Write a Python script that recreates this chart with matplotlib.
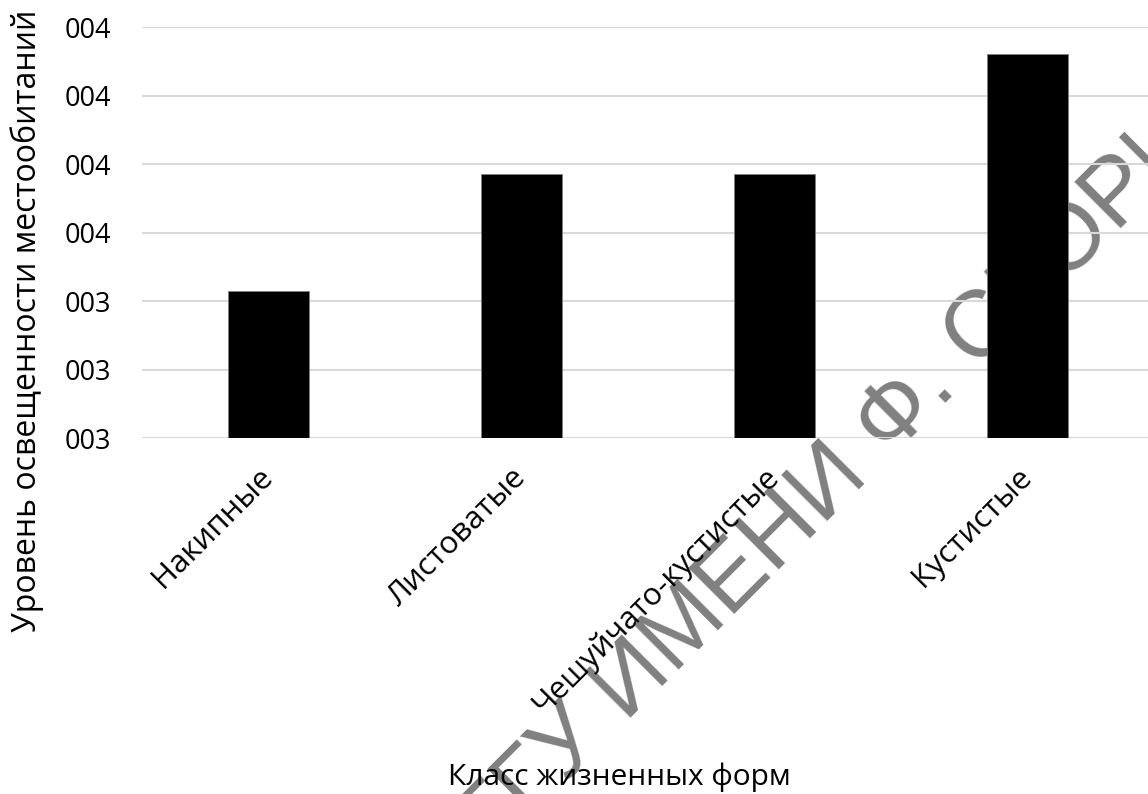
import numpy as np
import matplotlib.pyplot as plt
from matplotlib.textpath import TextPath
from matplotlib.font_manager import FontProperties

# Данные: класс жизненных форм и уровень освещенности
categories = ['Накипные', 'Листоватые', 'Чешуйчато-кустистые', 'Кустистые']
values = [3.43, 3.77, 3.77, 4.12]
y_ticks = [3.0, 3.2, 3.4, 3.6, 3.8, 4.0, 4.2]
y_tick_labels = ['003', '003', '003', '004', '004', '004', '004']
watermark = 'ГГУ ИМЕНИ Ф. СКОРИНЫ'

plt.rcParams['font.family'] = ['Open Sans', 'DejaVu Sans']

W, H = 1148, 794
fig = plt.figure(figsize=(W / 100, H / 100), dpi=100)
ax = fig.add_axes([142 / W, 356 / H, 1006 / W, 411 / H])
ax.patch.set_alpha(0)

x = range(len(categories))
ax.bar(x, values, width=0.32, color='black', edgecolor='#7f7f7f', linewidth=0.6, zorder=3)

ax.set_ylim(3.0, 4.2)
ax.set_xlim(-0.5, 3.476)
ax.set_yticks(y_ticks)
ax.set_yticklabels(y_tick_labels, fontsize=19.5)
ax.set_xticks(list(x))
ax.set_xticklabels(categories, fontsize=22.5, rotation=45, ha='right',
                   va='center', rotation_mode='anchor')
ax.tick_params(axis='both', length=0)
ax.tick_params(axis='y', pad=22)
ax.tick_params(axis='x', pad=25)
ax.grid(axis='y', color='#d9d9d9', linewidth=1.5, zorder=0)
for s in ax.spines.values():
    s.set_visible(False)

ax.set_ylabel('Уровень освещенности местообитаний', fontsize=23)
ax.set_xlabel('Класс жизненных форм', fontsize=21.5)
ax.yaxis.set_label_coords(-0.0974, 0.285)
ax.xaxis.set_label_coords(0.475, -0.79)

# водяной знак под графиком: точку после "Ф" ставим в (943, 405) px
fp = FontProperties(family='Liberation Sans', size=68)
head = TextPath((0, 0), watermark[:watermark.index('.') + 1], prop=fp).get_extents()
dot = TextPath((0, 0), '.', prop=fp).get_extents()
shift = (head.x1 - dot.width / 2 - head.x0) * 100 / 72   # в пикселях
sx = 943 - shift * np.cos(np.pi / 4)
sy = (H - 405) - shift * np.sin(np.pi / 4)
fig.text(sx / W, sy / H, watermark, fontproperties=fp, color='#808080',
         rotation=45, rotation_mode='anchor', ha='left', va='baseline', zorder=-1)

fig.savefig('out.png', dpi=100)
